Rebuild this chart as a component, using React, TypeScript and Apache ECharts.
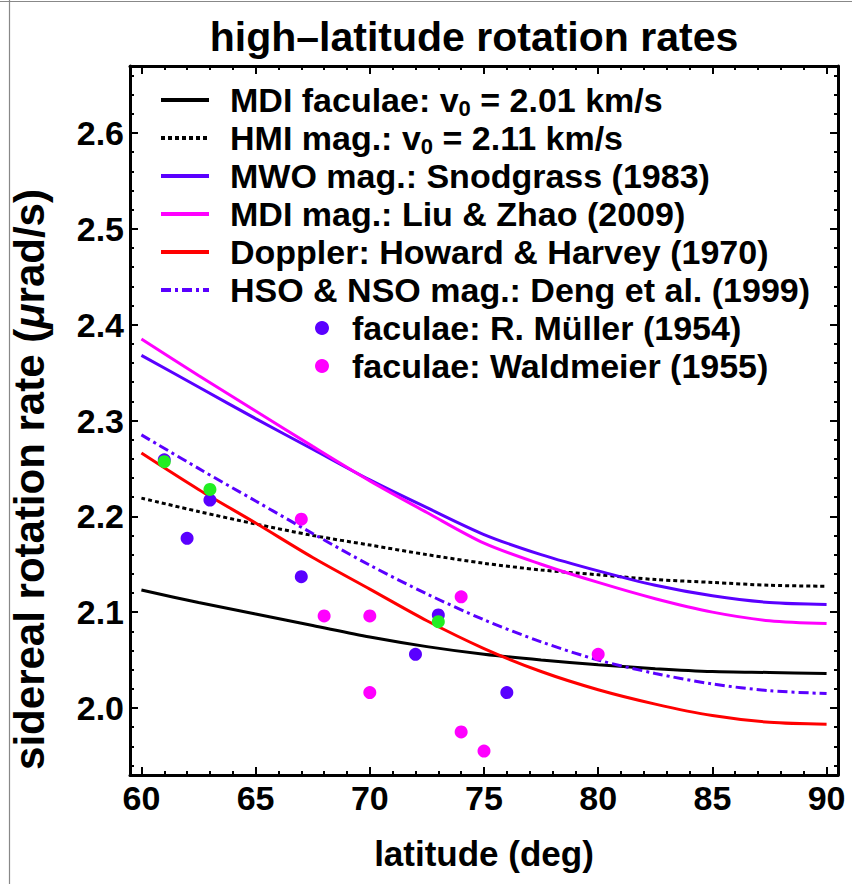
import React, { useEffect, useRef } from 'react';
import * as echarts from 'echarts';

// ---- data ----
const latitudes = [60, 62.5, 65, 67.5, 70, 72.5, 75, 77.5, 80, 82.5, 85, 87.5, 90];
const mdiFaculae = [2.123, 2.110, 2.098, 2.086, 2.074, 2.064, 2.056, 2.050, 2.045, 2.041, 2.038, 2.037, 2.036];
const hmiMag = [2.219, 2.205, 2.192, 2.180, 2.170, 2.160, 2.151, 2.144, 2.139, 2.134, 2.131, 2.128, 2.127];
const mwoSnodgrass = [2.368, 2.335, 2.302, 2.270, 2.238, 2.209, 2.181, 2.160, 2.143, 2.128, 2.117, 2.110, 2.108];
const mdiLiuZhao = [2.385, 2.347, 2.310, 2.273, 2.237, 2.204, 2.172, 2.150, 2.131, 2.114, 2.100, 2.091, 2.088];
const dopplerHH = [2.266, 2.228, 2.193, 2.157, 2.124, 2.091, 2.062, 2.038, 2.019, 2.004, 1.992, 1.985, 1.983];
const dengMag = [2.285, 2.250, 2.216, 2.182, 2.149, 2.119, 2.092, 2.069, 2.050, 2.036, 2.025, 2.018, 2.015];

const mullerLat = [61, 62, 63, 67, 72, 73, 76];
const mullerRate = [2.259, 2.177, 2.217, 2.137, 2.056, 2.097, 2.016];
const waldmeierLat = [67, 68, 70, 70, 74, 74, 75, 80];
const waldmeierRate = [2.197, 2.096, 2.096, 2.016, 2.116, 1.975, 1.955, 2.056];
const greenLat = [61, 63, 73];
const greenRate = [2.257, 2.228, 2.090];

const xTickValues = [60, 65, 70, 75, 80, 85, 90];
const yTickValues = [2.0, 2.1, 2.2, 2.3, 2.4, 2.5, 2.6];
const xMinorTicks = [61, 62, 63, 64, 66, 67, 68, 69, 71, 72, 73, 74, 76, 77, 78, 79, 81, 82, 83, 84, 86, 87, 88, 89];
const yMinorTicks = [1.94, 1.96, 1.98, 2.02, 2.04, 2.06, 2.08, 2.12, 2.14, 2.16, 2.18, 2.22, 2.24, 2.26, 2.28,
  2.32, 2.34, 2.36, 2.38, 2.42, 2.44, 2.46, 2.48, 2.52, 2.54, 2.56, 2.58, 2.62, 2.64, 2.66];

const lineNames = [
  'MDI faculae: v0 = 2.01 km/s',
  'HMI mag.: v0 = 2.11 km/s',
  'MWO mag.: Snodgrass (1983)',
  'MDI mag.: Liu & Zhao (2009)',
  'Doppler: Howard & Harvey (1970)',
  'HSO & NSO mag.: Deng et al. (1999)',
];
const pointNames = ['faculae: R. Müller (1954)', 'faculae: Waldmeier (1955)'];

const FONT = '"Liberation Sans", Arial, Helvetica, sans-serif';
const BLUE = '#5a00ff';
const MAGENTA = '#ff00ff';
const RED = '#ff0000';
const GREEN = '#22ee22';

const X_MIN = 59.5, X_MAX = 90.5, Y_MIN = 1.93, Y_MAX = 2.67;

function pairs(xs: number[], ys: number[]) {
  return xs.map((x, i) => [x, ys[i]]);
}

function tickAxisBase(kind: 'x' | 'y', position: string, values: number[], length: number, showLine: boolean) {
  return {
    type: 'value',
    min: kind === 'x' ? X_MIN : Y_MIN,
    max: kind === 'x' ? X_MAX : Y_MAX,
    position,
    axisLine: { show: showLine, onZero: false, lineStyle: { color: '#000', width: 3 } },
    axisTick: { show: true, inside: true, length, customValues: values, lineStyle: { color: '#000', width: 2 } },
    axisLabel: { show: false },
    splitLine: { show: false },
  };
}

export default function App() {
  const ref = useRef<HTMLDivElement>(null);
  useEffect(() => {
    if (!ref.current) return;
    const chart = echarts.init(ref.current, null, { renderer: 'svg' });
    const labelStyle = { fontFamily: FONT, fontWeight: 'bold', fontSize: 34, color: '#000' };
    const lineStyles = [
      { color: '#000', width: 3, type: 'solid' },
      { color: '#000', width: 3, type: [4, 3] },
      { color: BLUE, width: 3, type: 'solid' },
      { color: MAGENTA, width: 3, type: 'solid' },
      { color: RED, width: 3, type: 'solid' },
      { color: BLUE, width: 3, type: [10, 4, 3, 4] },
    ];
    const lineData = [mdiFaculae, hmiMag, mwoSnodgrass, mdiLiuZhao, dopplerHH, dengMag];

    const xMain: any = tickAxisBase('x', 'bottom', xTickValues, 8, true);
    xMain.axisLabel = { show: true, customValues: xTickValues, margin: 6, ...labelStyle };
    xMain.name = 'latitude (deg)';
    xMain.nameLocation = 'middle';
    xMain.nameGap = 61;
    xMain.nameTextStyle = { ...labelStyle, fontSize: 35 };

    const yMain: any = tickAxisBase('y', 'left', yTickValues, 8, true);
    yMain.axisLabel = {
      show: true, customValues: yTickValues, margin: 6, ...labelStyle,
      formatter: (v: number) => v.toFixed(1),
    };
    yMain.name = 'sidereal rotation rate ({it|μ}rad/s)';
    yMain.nameLocation = 'middle';
    yMain.nameGap = 80;
    yMain.nameTextStyle = {
      ...labelStyle, fontSize: 42, padding: [0, 118, 0, 0],
      rich: { it: { ...labelStyle, fontSize: 42, fontStyle: 'italic' } },
    };

    const legendText = {
      fontFamily: FONT, fontWeight: 'bold', fontSize: 34, color: '#000', lineHeight: 38,
    };

    const option: any = {
      animation: false,
      backgroundColor: '#fff',
      title: {
        text: 'high–latitude rotation rates',
        left: 474,
        textAlign: 'center',
        top: 16,
        padding: 0,
        textStyle: { fontFamily: FONT, fontWeight: 'bold', fontSize: 41, color: '#000' },
      },
      grid: { left: 128, right: 14, top: 66, bottom: 109, containLabel: false },
      xAxis: [
        xMain,
        tickAxisBase('x', 'bottom', xMinorTicks, 4, false),
        tickAxisBase('x', 'top', xTickValues, 8, true),
        tickAxisBase('x', 'top', xMinorTicks, 4, false),
      ],
      yAxis: [
        yMain,
        tickAxisBase('y', 'left', yMinorTicks, 4, false),
        tickAxisBase('y', 'right', yTickValues, 8, true),
        tickAxisBase('y', 'right', yMinorTicks, 4, false),
      ],
      legend: [
        {
          data: lineNames,
          orient: 'vertical',
          left: 159,
          top: 81,
          padding: 0,
          itemWidth: 48,
          itemHeight: 14,
          itemGap: 0,
          selectedMode: false,
          itemStyle: { color: 'rgba(0,0,0,0)', borderWidth: 0, opacity: 0 },
          lineStyle: { width: 4 },
          formatter: (name: string) => name.replace('v0', 'v{sub|0}'),
          textStyle: {
            ...legendText,
            padding: [0, 0, 0, 16],
            rich: {
              sub: {
                fontFamily: FONT, fontWeight: 'bold', fontSize: 22, color: '#000',
                lineHeight: 4, verticalAlign: 'bottom',
              },
            },
          },
        },
        {
          data: pointNames,
          orient: 'vertical',
          left: 315,
          top: 309,
          padding: 0,
          icon: 'circle',
          itemWidth: 14,
          itemHeight: 14,
          itemGap: 0,
          selectedMode: false,
          itemStyle: { opacity: 1 },
          textStyle: { ...legendText, padding: [0, 0, 0, 18] },
        },
      ],
      graphic: [
        { type: 'line', shape: { x1: 9.5, y1: 0, x2: 9.5, y2: 884 }, style: { stroke: '#888', lineWidth: 1.2 }, silent: true },
        { type: 'line', shape: { x1: 0, y1: 1.5, x2: 852, y2: 1.5 }, style: { stroke: '#888', lineWidth: 1.2 }, silent: true },
      ],
      series: [
        ...lineNames.map((name, i) => ({
          name,
          type: 'line',
          xAxisIndex: 0,
          yAxisIndex: 0,
          data: pairs(latitudes, lineData[i]),
          smooth: 0.3,
          symbol: 'none',
          showSymbol: false,
          color: lineStyles[i].color,
          lineStyle: lineStyles[i],
          z: 2,
        })),
        {
          name: pointNames[0], type: 'scatter', xAxisIndex: 0, yAxisIndex: 0,
          data: pairs(mullerLat, mullerRate), symbol: 'circle', symbolSize: 13,
          itemStyle: { color: BLUE, opacity: 1 }, z: 3,
        },
        {
          name: pointNames[1], type: 'scatter', xAxisIndex: 0, yAxisIndex: 0,
          data: pairs(waldmeierLat, waldmeierRate), symbol: 'circle', symbolSize: 13,
          itemStyle: { color: MAGENTA, opacity: 1 }, z: 3,
        },
        {
          name: 'other faculae', type: 'scatter', xAxisIndex: 0, yAxisIndex: 0,
          data: pairs(greenLat, greenRate), symbol: 'circle', symbolSize: 13,
          itemStyle: { color: GREEN, opacity: 1 }, z: 4,
        },
      ],
    };
    chart.setOption(option);
    return () => chart.dispose();
  }, []);
  return (
    <div
      ref={ref}
      style={{ position: 'fixed', left: 0, top: 0, width: 852, height: 884, background: '#fff' }}
    />
  );
}
